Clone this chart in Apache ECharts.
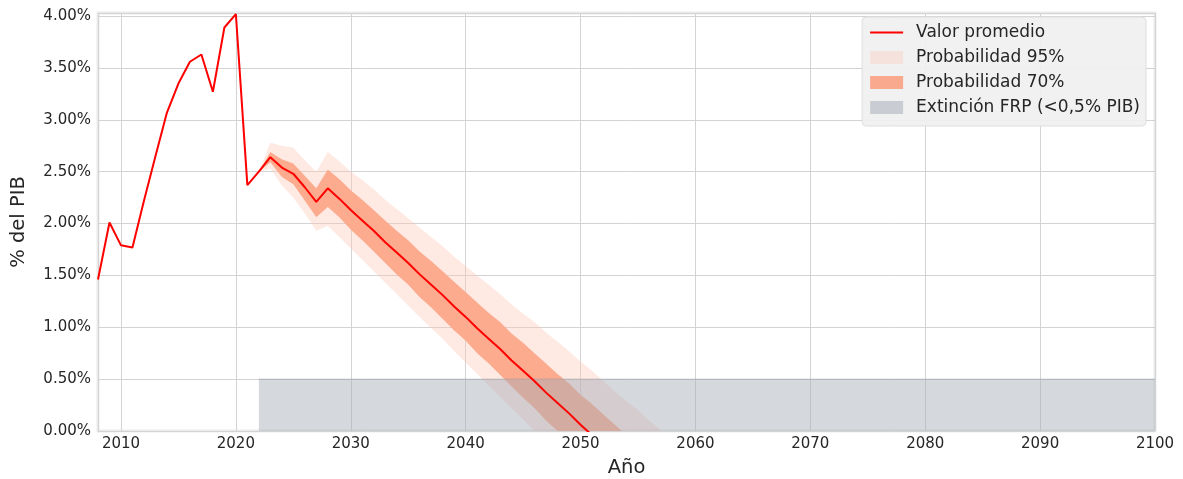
<!DOCTYPE html>
<html>
<head>
<meta charset="utf-8">
<script src="https://cdn.jsdelivr.net/npm/echarts@6/dist/echarts.min.js"></script>
<style>
html,body{margin:0;padding:0;background:#fff;}
#c{width:1183px;height:479px;}
</style>
</head>
<body>
<div id="c"></div>
<script>
// Historical + projected mean (% of GDP)
var histYears = [2008,2009,2010,2011,2012,2013,2014,2015,2016,2017,2018,2019,2020,2021];
var histValues = [1.46,2.01,1.79,1.77,2.22,2.65,3.07,3.35,3.56,3.63,3.27,3.89,4.02,2.37];

var projYears = [2022,2023,2024,2025,2026,2027,2028,2029,2030,2031,2032,2033,2034,2035,2036,2037,2038,2039,2040,2041,2042,2043,2044,2045,2046,2047,2048,2049,2050,2051,2052,2053,2054,2055,2056,2057,2058];
var projMean = [2.50,2.64,2.54,2.48,2.35,2.21,2.34,2.24,2.13,2.03,1.93,1.82,1.72,1.62,1.51,1.41,1.31,1.20,1.10,0.99,0.89,0.79,0.68,0.58,0.48,0.37,0.27,0.17,0.06,-0.04,-0.14,-0.25,-0.35,-0.45,-0.56,-0.66,-0.76];
var upper95 = [2.50,2.78,2.75,2.73,2.61,2.50,2.69,2.60,2.50,2.42,2.33,2.23,2.14,2.05,1.96,1.87,1.78,1.68,1.59,1.50,1.41,1.32,1.22,1.13,1.05,0.95,0.86,0.77,0.67,0.58,0.48,0.38,0.29,0.20,0.10,0.01,-0.09];
var upper70 = [2.50,2.69,2.62,2.58,2.46,2.34,2.52,2.43,2.32,2.23,2.13,2.03,1.93,1.84,1.73,1.64,1.54,1.44,1.34,1.24,1.14,1.05,0.94,0.85,0.75,0.65,0.55,0.46,0.35,0.26,0.16,0.06,-0.04,-0.14,-0.25,-0.35,-0.45];
var lower70 = [2.50,2.59,2.45,2.38,2.22,2.06,2.16,2.06,1.94,1.84,1.73,1.62,1.51,1.41,1.29,1.19,1.08,0.97,0.87,0.75,0.65,0.54,0.43,0.32,0.22,0.10,0.00,-0.10,-0.22,-0.32,-0.43,-0.54,-0.65,-0.75,-0.87,-0.97,-1.08];
var lower95 = [2.50,2.53,2.37,2.25,2.10,1.93,1.98,1.87,1.76,1.65,1.54,1.43,1.32,1.21,1.10,0.99,0.89,0.77,0.66,0.55,0.44,0.33,0.22,0.11,0.00,-0.11,-0.22,-0.32,-0.44,-0.55,-0.65,-0.77,-0.87,-0.98,-1.10,-1.20,-1.31];

// Extinction zone
var extinctionStart = 2022;
var extinctionEnd = 2100;
var extinctionLevel = 0.5;

var yTicks = [0,0.5,1,1.5,2,2.5,3,3.5,4];

var FONT = '"DejaVu Sans", sans-serif';
var C95 = 'rgba(252,200,185,0.40)';
var C70 = '#fcab8e';
var CGRAY = 'rgba(165,173,182,0.47)';

function pairs(xs, ys){ return xs.map(function(x,i){ return [x, ys[i]]; }); }
var meanData = pairs(histYears, histValues).concat(pairs(projYears, projMean));

// polygon between two curves, drawn through the chart's coordinate system
function bandRenderer(upper, lower, fill){
  return function(params, api){
    var pts = [];
    for (var i = 0; i < projYears.length; i++) pts.push(api.coord([projYears[i], upper[i]]));
    for (var j = projYears.length - 1; j >= 0; j--) pts.push(api.coord([projYears[j], lower[j]]));
    return {type:'polygon', shape:{points:pts}, style:{fill:fill, stroke:null}, silent:true};
  };
}
function zoneRenderer(params, api){
  var p0 = api.coord([extinctionStart, extinctionLevel]);
  var p1 = api.coord([extinctionEnd, 0]);
  return {type:'group', silent:true, children:[
    {type:'rect', shape:{x:p0[0], y:p0[1], width:p1[0]-p0[0], height:p1[1]-p0[1]}, style:{fill:CGRAY, stroke:null}},
    {type:'line', shape:{x1:p0[0], y1:p0[1], x2:p1[0], y2:p0[1]}, style:{stroke:'rgba(150,158,168,0.5)', lineWidth:1}}
  ]};
}

var chart = echarts.init(document.getElementById('c'), null, {renderer:'canvas'});
chart.setOption({
  animation:false,
  textStyle:{fontFamily:FONT},
  grid:{left:98, right:28, top:13, bottom:48, show:true, borderColor:'#ebebeb', borderWidth:3,
    backgroundColor:'transparent', outerBoundsMode:'none', containLabel:false},
  legend:{
    orient:'vertical', right:37, top:17,
    backgroundColor:'rgba(240,240,240,0.92)', borderColor:'#dedede', borderWidth:1, borderRadius:4,
    padding:[7,6,10,8], itemWidth:33, itemHeight:13, itemGap:8,
    textStyle:{fontFamily:FONT, fontSize:17, color:'#262626', lineHeight:15, padding:[0,0,0,8]},
    data:[
      {name:'Valor promedio', icon:'path://M0,0L33,0L33,2L0,2Z', itemStyle:{color:'#ff0000'}},
      {name:'Probabilidad 95%', icon:'rect', itemStyle:{color:'#f6e2dc'}},
      {name:'Probabilidad 70%', icon:'rect', itemStyle:{color:'#f9a98d'}},
      {name:'Extinción FRP (<0,5% PIB)', icon:'rect', itemStyle:{color:'#c9cdd3'}}
    ]
  },
  xAxis:{
    type:'value', min:2008, max:2100, splitNumber:9,
    name:'Año', nameLocation:'middle', nameGap:27,
    nameTextStyle:{fontFamily:FONT, fontSize:19.5, color:'#262626'},
    axisLine:{show:false}, axisTick:{show:false},
    axisLabel:{fontFamily:FONT, fontSize:15, color:'#262626', margin:6, showMinLabel:false,
      formatter:function(v){ return (v % 10 === 0) ? String(v) : ''; }},
    splitLine:{show:true, lineStyle:{color:'#d3d3d3', width:1}}
  },
  yAxis:{
    type:'value', min:0, max:4.03, interval:0.5,
    name:'% del PIB', nameLocation:'middle', nameGap:69, nameRotate:90,
    nameTextStyle:{fontFamily:FONT, fontSize:19.5, color:'#262626'},
    axisLine:{show:false}, axisTick:{show:false},
    axisLabel:{fontFamily:FONT, fontSize:15, color:'#262626', margin:7, showMaxLabel:false,
      formatter:function(v){ return yTicks.indexOf(+v.toFixed(2)) >= 0 ? v.toFixed(2) + '%' : ''; }},
    splitLine:{show:true, lineStyle:{color:'#d3d3d3', width:1}}
  },
  series:[
    {name:'Probabilidad 95%', type:'custom', clip:true, itemStyle:{color:C95}, data:[0],
      renderItem:bandRenderer(upper95, upper70, C95), z:2},
    {name:'Probabilidad 95%', type:'custom', clip:true, itemStyle:{color:C95}, data:[0],
      renderItem:bandRenderer(lower70, lower95, C95), z:2},
    {name:'Probabilidad 70%', type:'custom', clip:true, itemStyle:{color:C70}, data:[0],
      renderItem:bandRenderer(upper70, lower70, C70), z:2},
    {name:'Extinción FRP (<0,5% PIB)', type:'custom', clip:true, itemStyle:{color:CGRAY}, data:[0],
      renderItem:zoneRenderer, z:4},
    {name:'Valor promedio', type:'line', symbol:'none', showSymbol:false, clip:true,
      itemStyle:{color:'#ff0000'}, lineStyle:{color:'#ff0000', width:2},
      data:meanData, z:5}
  ]
});
</script>
</body>
</html>
